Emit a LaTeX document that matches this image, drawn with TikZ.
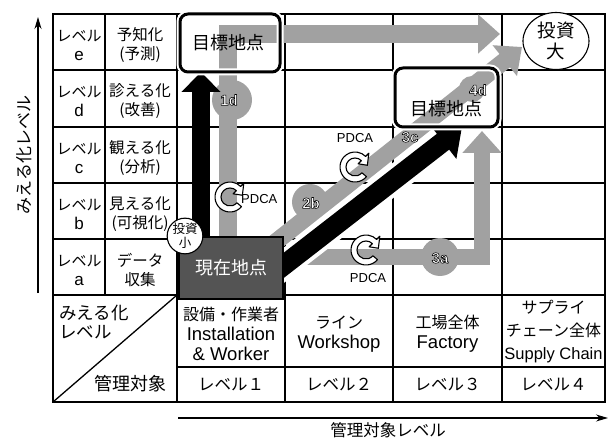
\documentclass[tikz,border=0pt]{standalone}
\usepackage{fontspec}
\setmainfont{Noto Sans CJK JP}
\newfontfamily\lat{Liberation Sans}
\usetikzlibrary{arrows.meta,shapes.geometric}
\definecolor{band}{gray}{0.63}
\definecolor{dark}{gray}{0.33}
\newcommand\codetxt[1]{{\color{white}\special{pdf:literal direct 0 G 0.55 w 1 j 2 Tr}#1\special{pdf:literal direct 0 Tr}}}
\newcommand\latx[1]{{\lat\fontsize{17}{19}\selectfont #1}}
\newcommand\hlat[1]{{\lat\fontsize{18.5}{20}\selectfont #1}}
\begin{document}
\begin{tikzpicture}[x=1pt,y=-1pt,
  grid/.style={line width=1.3pt},
  cell/.style={align=center,inner sep=0pt,font=\fontsize{15.5}{19}\selectfont},
  lcell/.style={align=center,inner sep=0pt,font=\fontsize{15}{19}\selectfont},
  hcell/.style={align=center,inner sep=0pt,font=\fontsize{16}{20}\selectfont},
  bcell/.style={inner sep=0pt,font=\fontsize{16.5}{20}\selectfont},
  gband/.style={draw=band,line width=18pt,line join=miter},
  gtip/.style={-{Triangle[width=38pt,length=22pt]}},
  gcirc/.style={circle,fill=band,inner sep=0pt},
  code/.style={inner sep=0pt,font=\lat\bfseries\fontsize{15}{14}\selectfont},
  goalbg/.style={fill=white,rounded corners=8pt,inner sep=0pt},
  goalbox/.style={draw=black,line width=3pt,rounded corners=8pt,inner sep=0pt,preaction={draw=white,line width=7pt}},
  goaltext/.style={inner sep=0pt,font=\fontsize{18}{18}\selectfont},
  pdcat/.style={inner sep=0pt,font=\lat\fontsize{13}{13}\selectfont},
  axis/.style={line width=1.2pt,-{Stealth[length=12pt,width=7pt]}},
  pdca/.pic={
    \begin{scope}[yscale=-1]
      \filldraw[fill=white,draw=black,line width=1.1pt,line join=round]
        (-40:15) arc[start angle=-40,end angle=-315,radius=15]
        -- (45:19.5) -- (8:12.5) -- (45:4.5) -- (45:9)
        arc[start angle=45,end angle=320,radius=9] -- cycle;
    \end{scope}}
]
\useasboundingbox (0,0) rectangle (616,441);

% ---- grid ----
\draw[grid] (53,14) rectangle (605,402);
\foreach \y in {70,127,183,239,295} \draw[grid] (53,\y) -- (605,\y);
\draw[grid] (177,367) -- (605,367);
\draw[grid] (105,14) -- (105,295);
\foreach \x in {177,285,393,502} \draw[grid] (\x,14) -- (\x,402);
\draw[grid] (53,402) -- (177,295);

% ---- axes ----
\coordinate (ya0) at (38,293); \coordinate (ya1) at (38,17);
\coordinate (xa0) at (178,418); \coordinate (xa1) at (608,418);
\draw[axis] (ya0) -- (ya1);
\draw[axis] (xa0) -- (xa1);
\node[rotate=90,inner sep=0pt,font=\fontsize{17}{17}\selectfont] (ylab) at (24,155) {みえる化レベル};
\node[inner sep=0pt,font=\fontsize{16.5}{17}\selectfont] (xlab) at (388,430) {管理対象レベル};

% ---- table texts ----
\node[lcell] (le) at (79,45) {レベル\\\latx{e}};
\node[lcell] (ld) at (79,101) {レベル\\\latx{d}};
\node[lcell] (lc) at (79,158) {レベル\\\latx{c}};
\node[lcell] (lb) at (79,214) {レベル\\\latx{b}};
\node[lcell] (la) at (79,270) {レベル\\\latx{a}};
\node[cell] (ne) at (140,45) {予知化\\(予測)};
\node[cell] (nd) at (140,101) {診える化\\(改善)};
\node[cell] (nc) at (140,158) {観える化\\(分析)};
\node[cell] (nb) at (140,214) {見える化\\(可視化)};
\node[cell] (na) at (140,270) {データ\\収集};
\node[align=left,anchor=north west,inner sep=0pt,font=\fontsize{17.5}{19}\selectfont] (dv) at (59,305) {みえる化\\レベル};
\node[inner sep=0pt,font=\fontsize{18}{18}\selectfont] (dh) at (130,384) {管理対象};
\node[hcell] (h1) at (231,334) {設備・作業者\\\hlat{Installation}\\\hlat{\& Worker}};
\node[hcell] (h2) at (339,334) {ライン\\\hlat{Workshop}};
\node[hcell] (h3) at (447.5,334) {工場全体\\\hlat{Factory}};
\node[align=center,inner sep=0pt,font=\fontsize{16}{23}\selectfont] (h4) at (553.5,332) {サプライ\\チェーン全体\\{\lat\fontsize{16.5}{23}\selectfont Supply Chain}};
\node[bcell] (b1) at (231,385) {レベル１};
\node[bcell] (b2) at (339,385) {レベル２};
\node[bcell] (b3) at (447.5,385) {レベル３};
\node[bcell] (b4) at (553.5,385) {レベル４};

% ---- goal box backgrounds ----
\node[goalbg,minimum width=100pt,minimum height=58pt] (g1bg) at (230,43) {};
\node[goalbg,minimum width=103pt,minimum height=59pt] (g2bg) at (446.5,97.5) {};
\node[ellipse,draw,fill=white,line width=1.1pt,minimum width=66pt,minimum height=57pt,align=center,inner sep=0pt,font=\fontsize{18.5}{21}\selectfont] (big) at (556,41) {投資\\大};

% ---- gray paths ----
\coordinate (p0) at (228,245); \coordinate (p1) at (228,34); \coordinate (p2) at (500,34);
\draw[gband,gtip] (p0) -- (p1) -- (p2);
\coordinate (q0) at (268,248); \coordinate (q1) at (522,47);
\draw[gband,line width=17pt,gtip] (q0) -- (q1);
\coordinate (r0) at (270,257); \coordinate (r1) at (482,257); \coordinate (r2) at (482,131);
\draw[gband,line width=16pt,gtip] (r0) -- (r1) -- (r2);
\node[gcirc,minimum size=40pt] (c1d) at (232,100) {};
\node[gcirc,minimum size=36pt] (c2b) at (310,202) {};
\node[gcirc,minimum size=38pt] (c3a) at (440,257) {};
\node[gcirc,minimum size=26pt] (c4d) at (472,89) {};

% ---- black arrows ----
\coordinate (k0) at (201,240); \coordinate (k1) at (201,72);
\draw[line width=18pt,-{Triangle[width=38pt,length=20pt]}] (k0) -- (k1);
\coordinate (d0) at (270,276); \coordinate (d1) at (462,127);
\draw[white,line width=28pt,shorten >=22pt] (d0) -- (d1);
\draw[line width=20pt,-{Triangle[width=42pt,length=24pt]}] (d0) -- (d1);

% ---- codes ----
\node[code] (t1d) at (229,100) {\codetxt{1d}};
\node[code] (t2b) at (311,203) {\codetxt{2b}};
\node[code] (t3c) at (410,137) {\codetxt{3c}};
\node[code] (t3a) at (440,258) {\codetxt{3a}};

% ---- PDCA ----
\pic (pd1) at (230,197) {pdca};
\node[pdcat,anchor=west] (pt1) at (241,199) {PDCA};
\pic (pd2) at (355,167) {pdca};
\node[pdcat] (pt2) at (355,138) {PDCA};
\pic (pd3) at (366,250) {pdca};
\node[pdcat] (pt3) at (368,278) {PDCA};

% ---- current point ----
\node[draw,fill=dark,line width=1.2pt,minimum width=104pt,minimum height=62pt,inner sep=0pt,text=white,font=\fontsize{18}{18}\selectfont] (now) at (231,268) {現在地点};
\node[circle,draw,fill=white,line width=1.1pt,minimum size=34pt,inner sep=0pt,align=center,font=\fontsize{12.5}{14}\selectfont] (small) at (185,236) {投資\\小};

% ---- goal boxes ----
\node[goalbox,minimum width=100pt,minimum height=58pt] (g1) at (230,43) {};
\node[goaltext] (g1t) at (228,43) {目標地点};
\node[goalbox,minimum width=103pt,minimum height=59pt] (g2) at (446.5,97.5) {};
\node[goaltext] (g2t) at (446,109) {目標地点};
\node[code] (t4d) at (478,90) {\codetxt{4d}};
\end{tikzpicture}
\end{document}
